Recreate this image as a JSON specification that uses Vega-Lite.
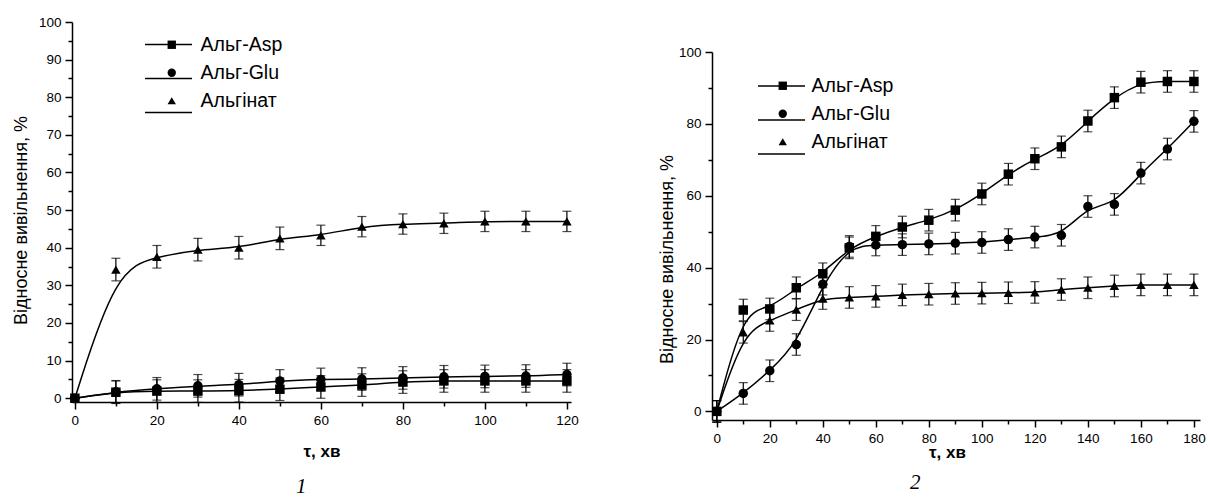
{
"$schema": "https://vega.github.io/schema/vega-lite/v6.json",
"padding": {"left": 12, "top": 15, "right": 0, "bottom": 0},
"background": "white",
"config": {
  "view": {"stroke": null},
  "font": "Liberation Sans",
  "axis": {"domainColor": "black", "domainWidth": 1.5, "tickColor": "black", "tickWidth": 1.5, "labelColor": "black", "labelFont": "Liberation Sans", "labelFontSize": 13.5, "labelPadding": 4, "titleFont": "Liberation Sans", "titleColor": "black", "grid": false, "labelFlush": false, "labelOverlap": false, "titleFontWeight": "normal"},
  "axisX": {"titleFontWeight": "bold", "titleFontSize": 17},
  "axisY": {"titleFontSize": 18},
  "legend": {"orient": "none", "title": null, "labelFontSize": 19.5, "labelFont": "Liberation Sans", "labelColor": "black", "labelLimit": 300, "symbolOpacity": 1}
},
"resolve": {"scale": {"shape": "independent", "color": "independent"}, "legend": {"shape": "independent", "color": "independent"}},
"spacing": 79,
"hconcat": [
  {
    "width": 499, "height": 380,
    "title": {"text": "1", "orient": "bottom", "anchor": "start", "frame": "group", "dx": 224, "offset": 16, "font": "Liberation Serif", "fontStyle": "italic", "fontSize": 21, "fontWeight": "normal", "color": "black"},
    "data": {"values": [
      {"series": "Альг-Asp", "t": 0, "v": 0, "err": 0},
      {"series": "Альг-Asp", "t": 10, "v": 1.6, "err": 3},
      {"series": "Альг-Asp", "t": 20, "v": 1.9, "err": 3},
      {"series": "Альг-Asp", "t": 30, "v": 1.9, "err": 3},
      {"series": "Альг-Asp", "t": 40, "v": 2.0, "err": 3},
      {"series": "Альг-Asp", "t": 50, "v": 2.4, "err": 3},
      {"series": "Альг-Asp", "t": 60, "v": 3.0, "err": 3},
      {"series": "Альг-Asp", "t": 70, "v": 3.5, "err": 3},
      {"series": "Альг-Asp", "t": 80, "v": 4.3, "err": 3},
      {"series": "Альг-Asp", "t": 90, "v": 4.6, "err": 3},
      {"series": "Альг-Asp", "t": 100, "v": 4.6, "err": 3},
      {"series": "Альг-Asp", "t": 110, "v": 4.6, "err": 3},
      {"series": "Альг-Asp", "t": 120, "v": 4.6, "err": 3},
      {"series": "Альг-Glu", "t": 0, "v": 0, "err": 0},
      {"series": "Альг-Glu", "t": 10, "v": 1.7, "err": 3},
      {"series": "Альг-Glu", "t": 20, "v": 2.5, "err": 3},
      {"series": "Альг-Glu", "t": 30, "v": 3.3, "err": 3},
      {"series": "Альг-Glu", "t": 40, "v": 3.6, "err": 3},
      {"series": "Альг-Glu", "t": 50, "v": 4.6, "err": 3},
      {"series": "Альг-Glu", "t": 60, "v": 5.0, "err": 3},
      {"series": "Альг-Glu", "t": 70, "v": 5.1, "err": 3},
      {"series": "Альг-Glu", "t": 80, "v": 5.4, "err": 3},
      {"series": "Альг-Glu", "t": 90, "v": 5.7, "err": 3},
      {"series": "Альг-Glu", "t": 100, "v": 5.8, "err": 3},
      {"series": "Альг-Glu", "t": 110, "v": 5.9, "err": 3},
      {"series": "Альг-Glu", "t": 120, "v": 6.3, "err": 3},
      {"series": "Альгінат", "t": 0, "v": 0, "err": 0},
      {"series": "Альгінат", "t": 10, "v": 34.2, "err": 3},
      {"series": "Альгінат", "t": 20, "v": 37.6, "err": 3},
      {"series": "Альгінат", "t": 30, "v": 39.5, "err": 3},
      {"series": "Альгінат", "t": 40, "v": 40.0, "err": 3},
      {"series": "Альгінат", "t": 50, "v": 42.5, "err": 3},
      {"series": "Альгінат", "t": 60, "v": 43.3, "err": 2.7},
      {"series": "Альгінат", "t": 70, "v": 45.6, "err": 2.7},
      {"series": "Альгінат", "t": 80, "v": 46.3, "err": 2.7},
      {"series": "Альгінат", "t": 90, "v": 46.5, "err": 2.7},
      {"series": "Альгінат", "t": 100, "v": 47.0, "err": 2.7},
      {"series": "Альгінат", "t": 110, "v": 47.0, "err": 2.7},
      {"series": "Альгінат", "t": 120, "v": 47.0, "err": 2.7}
    ]},
    "encoding": {
      "x": {"field": "t", "type": "quantitative", "scale": {"domain": [-0.7, 121], "nice": false, "zero": false},
        "axis": {"title": "τ, хв", "titlePadding": 17, "values": [0, 10, 20, 30, 40, 50, 60, 70, 80, 90, 100, 110, 120], "labelExpr": "datum.value % 20 === 0 ? datum.label : ''", "tickSize": {"condition": {"test": "datum.value % 20 !== 0", "value": 4}, "value": 7}}},
      "y": {"field": "v", "type": "quantitative", "scale": {"domain": [-1, 100], "nice": false, "zero": false},
        "axis": {"title": "Відносне вивільнення, %", "titleY": 198, "titlePadding": 8, "values": [0, 5, 10, 15, 20, 25, 30, 35, 40, 45, 50, 55, 60, 65, 70, 75, 80, 85, 90, 95, 100], "labelExpr": "datum.value % 10 === 0 ? datum.label : ''", "tickSize": {"condition": {"test": "datum.value % 10 !== 0", "value": 4}, "value": 7}}}
    },
    "layer": [
      {"mark": {"type": "line", "interpolate": "basis", "strokeWidth": 1.5},
        "encoding": {"color": {"field": "series", "type": "nominal", "scale": {"range": ["black", "black", "black"]},
          "legend": {"legendX": 72, "legendY": -2, "symbolType": "stroke", "symbolSize": 2209, "symbolStrokeWidth": 1.5, "symbolStrokeColor": "black", "labelExpr": "''", "labelOffset": 0, "rowPadding": -30}}}},
      {"mark": {"type": "errorbar", "color": "black", "thickness": 1.2, "ticks": {"size": 9, "thickness": 1.2, "color": "black"}}, "encoding": {"yError": {"field": "err"}, "detail": {"field": "series"}}},
      {"mark": {"type": "point", "filled": true, "color": "black", "opacity": 1, "size": 90},
        "encoding": {"shape": {"field": "series", "type": "nominal", "scale": {"domain": ["Альг-Asp", "Альг-Glu", "Альгінат"], "range": ["square", "circle", "triangle-up"]},
          "legend": {"legendX": 90, "legendY": 13, "symbolSize": 70, "symbolFillColor": "black", "labelOffset": 19, "rowPadding": 7}}}}
    ]
  },
  {
    "spacing": 18,
    "resolve": {"scale": {"shape": "independent", "color": "independent"}, "legend": {"shape": "independent", "color": "independent"}},
    "vconcat": [
      {"width": 488, "height": 3, "data": {"values": [{"a": 1}]}, "mark": {"type": "point", "opacity": 0}},
      {
        "width": 488, "height": 368,
        "title": {"text": "2", "orient": "bottom", "anchor": "start", "frame": "group", "dx": 198, "offset": 11, "font": "Liberation Serif", "fontStyle": "italic", "fontSize": 21, "fontWeight": "normal", "color": "black"},
        "data": {"values": [
          {"series": "Альг-Asp", "t": 0, "v": 0, "err": 3},
          {"series": "Альг-Asp", "t": 10, "v": 28.2, "err": 3},
          {"series": "Альг-Asp", "t": 20, "v": 28.5, "err": 3},
          {"series": "Альг-Asp", "t": 30, "v": 34.4, "err": 3},
          {"series": "Альг-Asp", "t": 40, "v": 38.3, "err": 3},
          {"series": "Альг-Asp", "t": 50, "v": 45.5, "err": 3},
          {"series": "Альг-Asp", "t": 60, "v": 48.7, "err": 3},
          {"series": "Альг-Asp", "t": 70, "v": 51.3, "err": 3},
          {"series": "Альг-Asp", "t": 80, "v": 53.2, "err": 3},
          {"series": "Альг-Asp", "t": 90, "v": 56.0, "err": 3},
          {"series": "Альг-Asp", "t": 100, "v": 60.5, "err": 3},
          {"series": "Альг-Asp", "t": 110, "v": 66.0, "err": 3},
          {"series": "Альг-Asp", "t": 120, "v": 70.3, "err": 3},
          {"series": "Альг-Asp", "t": 130, "v": 73.6, "err": 3},
          {"series": "Альг-Asp", "t": 140, "v": 80.8, "err": 3},
          {"series": "Альг-Asp", "t": 150, "v": 87.3, "err": 3},
          {"series": "Альг-Asp", "t": 160, "v": 91.6, "err": 3},
          {"series": "Альг-Asp", "t": 170, "v": 91.8, "err": 3},
          {"series": "Альг-Asp", "t": 180, "v": 91.8, "err": 3},
          {"series": "Альг-Glu", "t": 0, "v": 0, "err": 3},
          {"series": "Альг-Glu", "t": 10, "v": 5.0, "err": 3},
          {"series": "Альг-Glu", "t": 20, "v": 11.3, "err": 3},
          {"series": "Альг-Glu", "t": 30, "v": 18.6, "err": 3},
          {"series": "Альг-Glu", "t": 40, "v": 35.4, "err": 3},
          {"series": "Альг-Glu", "t": 50, "v": 45.9, "err": 3},
          {"series": "Альг-Glu", "t": 60, "v": 46.3, "err": 3},
          {"series": "Альг-Glu", "t": 70, "v": 46.4, "err": 3},
          {"series": "Альг-Glu", "t": 80, "v": 46.6, "err": 3},
          {"series": "Альг-Glu", "t": 90, "v": 46.8, "err": 3},
          {"series": "Альг-Glu", "t": 100, "v": 47.0, "err": 3},
          {"series": "Альг-Glu", "t": 110, "v": 47.8, "err": 3},
          {"series": "Альг-Glu", "t": 120, "v": 48.5, "err": 3},
          {"series": "Альг-Glu", "t": 130, "v": 49.0, "err": 3},
          {"series": "Альг-Glu", "t": 140, "v": 57.0, "err": 3},
          {"series": "Альг-Glu", "t": 150, "v": 57.6, "err": 3},
          {"series": "Альг-Glu", "t": 160, "v": 66.3, "err": 3},
          {"series": "Альг-Glu", "t": 170, "v": 73.0, "err": 3},
          {"series": "Альг-Glu", "t": 180, "v": 80.7, "err": 3},
          {"series": "Альгінат", "t": 0, "v": 0, "err": 3},
          {"series": "Альгінат", "t": 10, "v": 22.0, "err": 3},
          {"series": "Альгінат", "t": 20, "v": 25.3, "err": 3},
          {"series": "Альгінат", "t": 30, "v": 28.3, "err": 3},
          {"series": "Альгінат", "t": 40, "v": 31.4, "err": 3},
          {"series": "Альгінат", "t": 50, "v": 31.7, "err": 3},
          {"series": "Альгінат", "t": 60, "v": 32.0, "err": 3},
          {"series": "Альгінат", "t": 70, "v": 32.4, "err": 3},
          {"series": "Альгінат", "t": 80, "v": 32.6, "err": 3},
          {"series": "Альгінат", "t": 90, "v": 32.8, "err": 3},
          {"series": "Альгінат", "t": 100, "v": 32.9, "err": 3},
          {"series": "Альгінат", "t": 110, "v": 33.0, "err": 3},
          {"series": "Альгінат", "t": 120, "v": 33.1, "err": 3},
          {"series": "Альгінат", "t": 130, "v": 33.9, "err": 3},
          {"series": "Альгінат", "t": 140, "v": 34.4, "err": 3},
          {"series": "Альгінат", "t": 150, "v": 34.9, "err": 3},
          {"series": "Альгінат", "t": 160, "v": 35.2, "err": 3},
          {"series": "Альгінат", "t": 170, "v": 35.2, "err": 3},
          {"series": "Альгінат", "t": 180, "v": 35.2, "err": 3}
        ]},
        "encoding": {
          "x": {"field": "t", "type": "quantitative", "scale": {"domain": [-1.8, 182.3], "nice": false, "zero": false},
            "axis": {"title": "τ, хв", "titlePadding": 0, "titleX": 235, "values": [0, 10, 20, 30, 40, 50, 60, 70, 80, 90, 100, 110, 120, 130, 140, 150, 160, 170, 180], "labelExpr": "datum.value % 20 === 0 ? datum.label : ''", "tickSize": {"condition": {"test": "datum.value % 20 !== 0", "value": 4}, "value": 7}}},
          "y": {"field": "v", "type": "quantitative", "scale": {"domain": [-2.4, 100], "nice": false, "zero": false},
            "axis": {"title": "Відносне вивільнення, %", "titleY": 207, "titlePadding": 2, "values": [0, 10, 20, 30, 40, 50, 60, 70, 80, 90, 100], "labelExpr": "datum.value % 20 === 0 ? datum.label : ''", "tickSize": {"condition": {"test": "datum.value % 20 !== 0", "value": 4}, "value": 7}}}
        },
        "layer": [
          {"mark": {"type": "line", "interpolate": "basis", "strokeWidth": 1.5},
            "encoding": {"color": {"field": "series", "type": "nominal", "scale": {"range": ["black", "black", "black"]},
              "legend": {"legendX": 45, "legendY": 9.5, "symbolType": "stroke", "symbolSize": 2209, "symbolStrokeWidth": 1.5, "symbolStrokeColor": "black", "labelExpr": "''", "labelOffset": 0, "rowPadding": -30}}}},
          {"mark": {"type": "errorbar", "color": "black", "thickness": 1.2, "ticks": {"size": 9, "thickness": 1.2, "color": "black"}}, "encoding": {"yError": {"field": "err"}, "detail": {"field": "series"}}},
          {"mark": {"type": "point", "filled": true, "color": "black", "opacity": 1, "size": 90},
            "encoding": {"shape": {"field": "series", "type": "nominal", "scale": {"domain": ["Альг-Asp", "Альг-Glu", "Альгінат"], "range": ["square", "circle", "triangle-up"]},
              "legend": {"legendX": 61, "legendY": 24, "symbolSize": 70, "symbolFillColor": "black", "labelOffset": 19, "rowPadding": 7}}}}
        ]
      }
    ]
  }
]
}
